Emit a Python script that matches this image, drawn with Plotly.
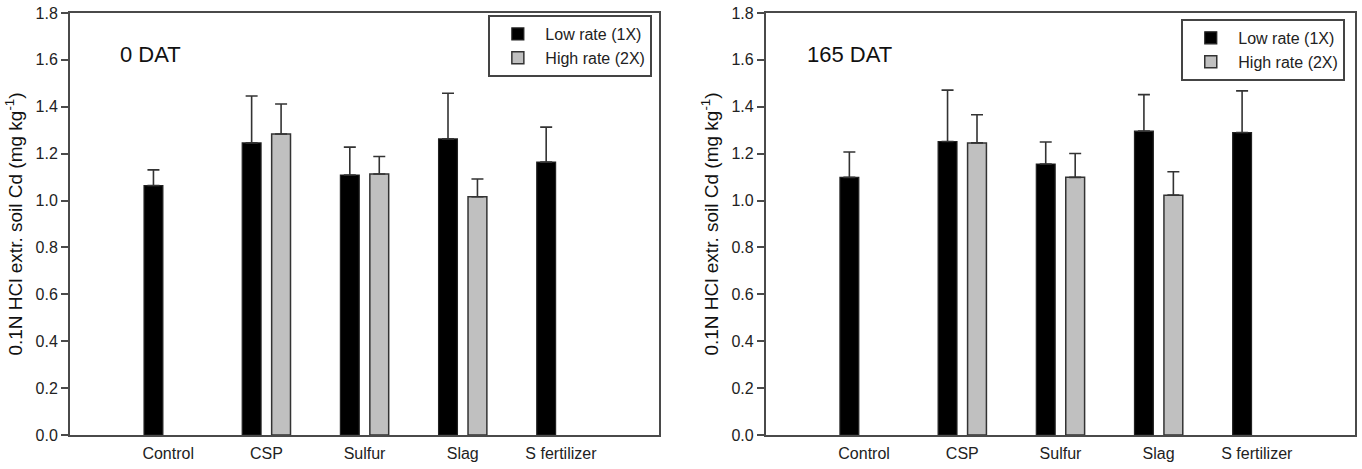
import plotly.graph_objects as go

categories = ["Control", "CSP", "Sulfur", "Slag", "S fertilizer"]

# 0 DAT
low_0 = [1.064, 1.246, 1.109, 1.263, 1.164]
low_0_err = [0.067, 0.200, 0.119, 0.195, 0.149]
high_0 = [None, 1.284, 1.113, 1.016, None]
high_0_err = [None, 0.128, 0.075, 0.076, None]

# 165 DAT
low_165 = [1.099, 1.252, 1.156, 1.296, 1.290]
low_165_err = [0.108, 0.219, 0.094, 0.156, 0.178]
high_165 = [None, 1.246, 1.099, 1.023, None]
high_165_err = [None, 0.120, 0.102, 0.100, None]

series_names = ["Low rate (1X)", "High rate (2X)"]
panel_labels = ["0 DAT", "165 DAT"]
y_title = "0.1N HCl extr. soil Cd (mg kg<sup>-1</sup>)"
y_ticks = [0.0, 0.2, 0.4, 0.6, 0.8, 1.0, 1.2, 1.4, 1.6, 1.8]

FONT = "Arial, Liberation Sans, sans-serif"
LINE = "#4a4a4a"

fig = go.Figure()


def add_panel(xaxis, yaxis, legend, low, low_err, high, high_err):
    fig.add_trace(go.Bar(
        x=categories, y=low, name=series_names[0], xaxis=xaxis, yaxis=yaxis,
        legend=legend,
        marker=dict(color="#000000", line=dict(color="#222222", width=1.2)),
        error_y=dict(type="data", symmetric=False, array=low_err,
                     arrayminus=[0 if v is not None else None for v in low_err],
                     color="#333333", thickness=1.6, width=6),
    ))
    fig.add_trace(go.Bar(
        x=categories, y=high, name=series_names[1], xaxis=xaxis, yaxis=yaxis,
        legend=legend,
        marker=dict(color="#c0c0c0", line=dict(color="#333333", width=1.5)),
        error_y=dict(type="data", symmetric=False, array=high_err,
                     arrayminus=[0 if v is not None else None for v in high_err],
                     color="#333333", thickness=1.6, width=6),
    ))


add_panel("x", "y", "legend", low_0, low_0_err, high_0, high_0_err)
add_panel("x2", "y2", "legend2", low_165, low_165_err, high_165, high_165_err)

W, H = 1362, 469
ML, MR, MT, MB = 70, 5, 11, 34
pw = W - ML - MR
d1 = (660 - ML) / pw
d2 = (767 - ML) / pw

xaxis_common = dict(
    type="category", range=[-1, 5], showline=True, mirror=True,
    linecolor=LINE, linewidth=2, ticks="", showgrid=False,
    tickfont=dict(family=FONT, size=16, color="#222222"),
    ticklabelstandoff=3,
)
yaxis_common = dict(
    range=[0, 1.8], tickvals=y_ticks, tickformat=".1f", showline=True,
    mirror=True, linecolor=LINE, linewidth=2, ticks="outside", ticklen=7,
    tickwidth=1.5, tickcolor=LINE, showgrid=False, zeroline=False,
    tickfont=dict(family=FONT, size=16, color="#222222"),
    title=dict(text=y_title, font=dict(family=FONT, size=19, color="#111111"),
               standoff=8),
)

legend_common = dict(
    bgcolor="white", bordercolor="#444444", borderwidth=2,
    font=dict(family=FONT, size=16, color="#222222"),
    xanchor="left", yanchor="top", tracegroupgap=0, itemwidth=45,
)

fig.update_layout(
    width=W, height=H,
    margin=dict(l=ML, r=MR, t=MT, b=MB),
    paper_bgcolor="white", plot_bgcolor="white",
    barmode="group", bargap=0.4, bargroupgap=0.36,
    xaxis=dict(domain=[0, d1], anchor="y", **xaxis_common),
    xaxis2=dict(domain=[d2, 1], anchor="y2", **xaxis_common),
    yaxis=dict(anchor="x", **yaxis_common),
    yaxis2=dict(anchor="x2", **yaxis_common),
    legend=dict(x=(489 - ML) / pw, y=(H - MB - 13) / (H - MT - MB), **legend_common),
    legend2=dict(x=(1183 - ML) / pw, y=(H - MB - 17) / (H - MT - MB), **legend_common),
    showlegend=True,
    annotations=[
        dict(text=panel_labels[0], xref="x domain", yref="y domain",
             x=(118 - ML) / (660 - ML), y=(H - MB - 53) / (H - MT - MB),
             xanchor="left", yanchor="middle", showarrow=False,
             font=dict(family=FONT, size=22, color="#111111")),
        dict(text=panel_labels[1], xref="x2 domain", yref="y2 domain",
             x=(806 - 767) / (1357 - 767), y=(H - MB - 53) / (H - MT - MB),
             xanchor="left", yanchor="middle", showarrow=False,
             font=dict(family=FONT, size=22, color="#111111")),
    ],
)

fig.write_html("out.html")
